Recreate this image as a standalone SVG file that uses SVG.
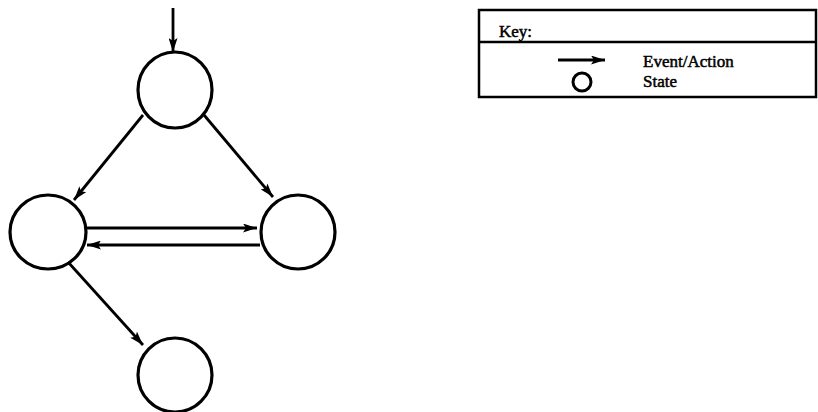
<svg xmlns="http://www.w3.org/2000/svg" width="818" height="412" viewBox="0 0 818 412">
<defs>
<marker id="ah" viewBox="0 0 14 9" refX="14" refY="4.5" markerWidth="14" markerHeight="9" markerUnits="userSpaceOnUse" orient="auto">
<path d="M0,0 L14,4.5 L0,9 L3,4.5 Z" fill="#000"/>
</marker>
</defs>
<style>
.st{fill:none;stroke:#000;stroke-width:3.2}
.cn{fill:none;stroke:#000;stroke-width:2.8;marker-end:url(#ah)}
.tx{font-family:"Liberation Serif",serif;font-size:17px;fill:#000;stroke:#000;stroke-width:0.5}
</style>
<rect width="818" height="412" fill="#fff"/>
<g id="connectors">
<line class="cn" x1="173" y1="8" x2="173" y2="52"/>
<line class="cn" x1="143" y1="115" x2="74" y2="200"/>
<line class="cn" x1="204" y1="115" x2="273" y2="197"/>
<line class="cn" x1="87" y1="228" x2="257" y2="228"/>
<line class="cn" x1="260" y1="245" x2="87" y2="245"/>
<line class="cn" x1="68" y1="262" x2="143" y2="345"/>
</g>
<g id="s1"><ellipse class="st" cx="175" cy="90" rx="37" ry="38"/></g>
<g id="s2"><ellipse class="st" cx="48" cy="232" rx="38" ry="37"/></g>
<g id="s3"><ellipse class="st" cx="298" cy="232" rx="37" ry="37"/></g>
<g id="s4"><ellipse class="st" cx="175" cy="375" rx="37" ry="37"/></g>
<g id="key">
<rect x="479" y="10" width="337" height="87" fill="none" stroke="#000" stroke-width="2.5"/>
<line x1="479" y1="42" x2="816" y2="42" stroke="#000" stroke-width="2.5"/>
<text class="tx" x="499" y="37">Key:</text>
<line class="cn" x1="558" y1="60" x2="605" y2="60"/>
<circle cx="582" cy="82" r="9" fill="none" stroke="#000" stroke-width="3"/>
<text class="tx" x="643" y="67">Event/Action</text>
<text class="tx" x="643" y="87">State</text>
</g>
</svg>
